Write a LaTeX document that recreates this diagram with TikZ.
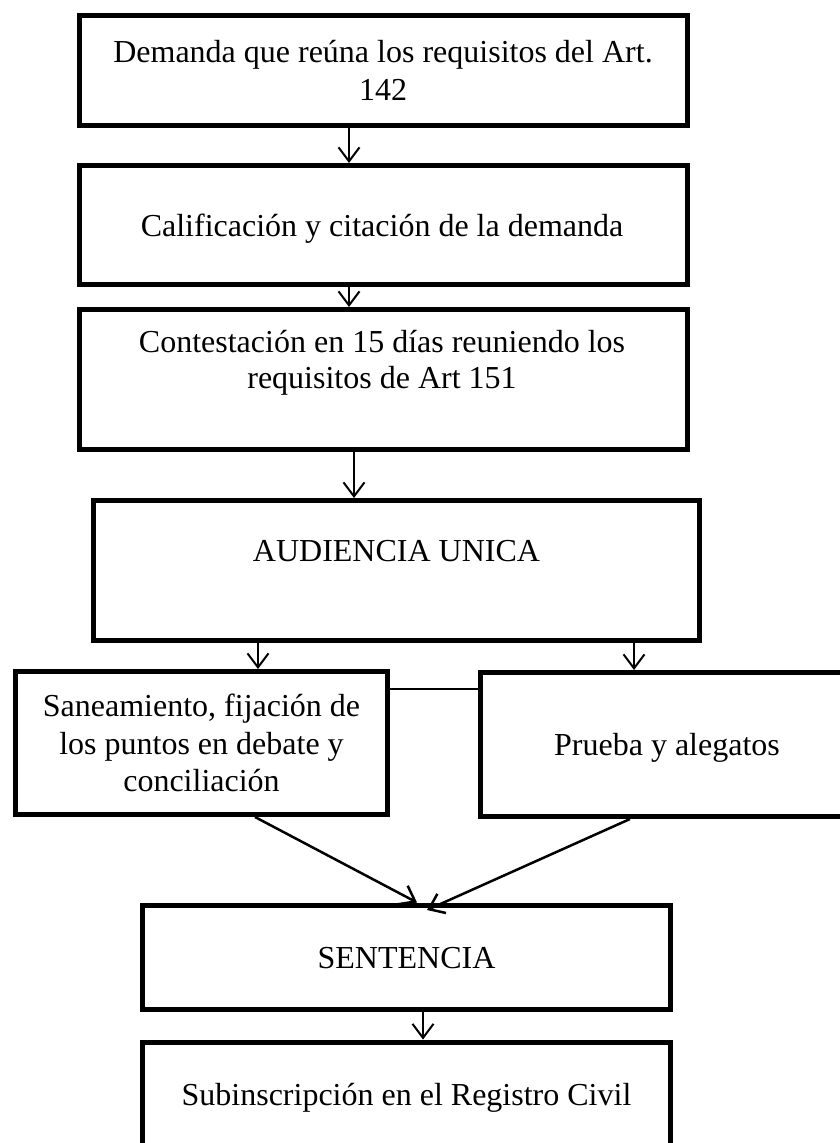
\documentclass[tikz,border=0pt]{standalone}
\usepackage{fontspec}
\setmainfont{Liberation Serif}
\usetikzlibrary{arrows.meta}
\begin{document}
\begin{tikzpicture}[x=1pt,y=-1pt,
  box/.style={draw, line width=5pt, rectangle, inner sep=0pt},
  lbl/.style={anchor=base, inner sep=0pt, font=\fontsize{32}{37}\selectfont},
  arr/.style={line width=2pt, -{Straight Barb[length=14pt,width=21pt]}},
  diag/.style={line width=2.5pt, -{Straight Barb[length=14pt,width=21pt]}},
  link/.style={line width=1.5pt}]
\useasboundingbox (0,0) rectangle (840,1143);
\clip (0,0) rectangle (840,1143);
% boxes
\node[box, minimum width=608pt, minimum height=110.5pt] (b1) at (383,70.25) {};
\node[box, minimum width=608pt, minimum height=119pt] (b2) at (383,225) {};
\node[box, minimum width=608pt, minimum height=140pt] (b3) at (383,379.5) {};
\node[box, minimum width=606.5pt, minimum height=140pt] (b4) at (396.25,570.5) {};
\node[box, minimum width=372pt, minimum height=143pt] (b5) at (201.5,743) {};
\node[box, minimum width=372.5pt, minimum height=144pt] (b6) at (666.75,744.5) {};
\node[box, minimum width=528pt, minimum height=104.5pt] (b7) at (406.5,957.25) {};
\node[box, minimum width=528pt, minimum height=118pt] (b8) at (406.5,1101) {};
% texts
\node[lbl] (t1a) at (383,62) {Demanda que reúna los requisitos del Art.};
\node[lbl] (t1b) at (383,100) {142};
\node[lbl] (t2) at (382,236.7) {Calificación y citación de la demanda};
\node[lbl] (t3a) at (382,352.7) {Contestación en 15 días reuniendo los};
\node[lbl] (t3b) at (382,388.3) {requisitos de Art 151};
\node[lbl] (t4) at (396.5,561.7) {AUDIENCIA UNICA};
\node[lbl] (t5a) at (201.5,716.7) {Saneamiento, fijación de};
\node[lbl] (t5b) at (201.5,754.3) {los puntos en debate y};
\node[lbl] (t5c) at (201.5,791) {conciliación};
\node[lbl] (t6) at (667,755) {Prueba y alegatos};
\node[lbl] (t7) at (406.5,968.3) {SENTENCIA};
\node[lbl] (t8) at (406.5,1105) {Subinscripción en el Registro Civil};
% connectors
\draw[arr] ([xshift=-34pt]b1.south) -- ([xshift=-34pt]b2.north);
\draw[arr] ([xshift=-34pt]b2.south) -- ([xshift=-34pt]b3.north);
\draw[arr] ([xshift=-29pt]b3.south) -- ([xshift=-42.25pt]b4.north);
\draw[arr] ([xshift=-138.25pt]b4.south) -- ([xshift=56.5pt]b5.north);
\draw[arr] ([xshift=237.75pt]b4.south) -- ([xshift=-32.75pt]b6.north);
\draw[link] ([yshift=54pt]b5.east) -- ([yshift=55.5pt]b6.west);
\draw[diag] ([xshift=53.5pt]b5.south) -- ([xshift=10.5pt]b7.north);
\draw[diag] ([xshift=-36.75pt]b6.south) -- ([xshift=20.5pt,yshift=-7.5pt]b7.north);
\draw[arr] ([xshift=16.5pt]b7.south) -- ([xshift=16.5pt]b8.north);
\end{tikzpicture}
\end{document}
